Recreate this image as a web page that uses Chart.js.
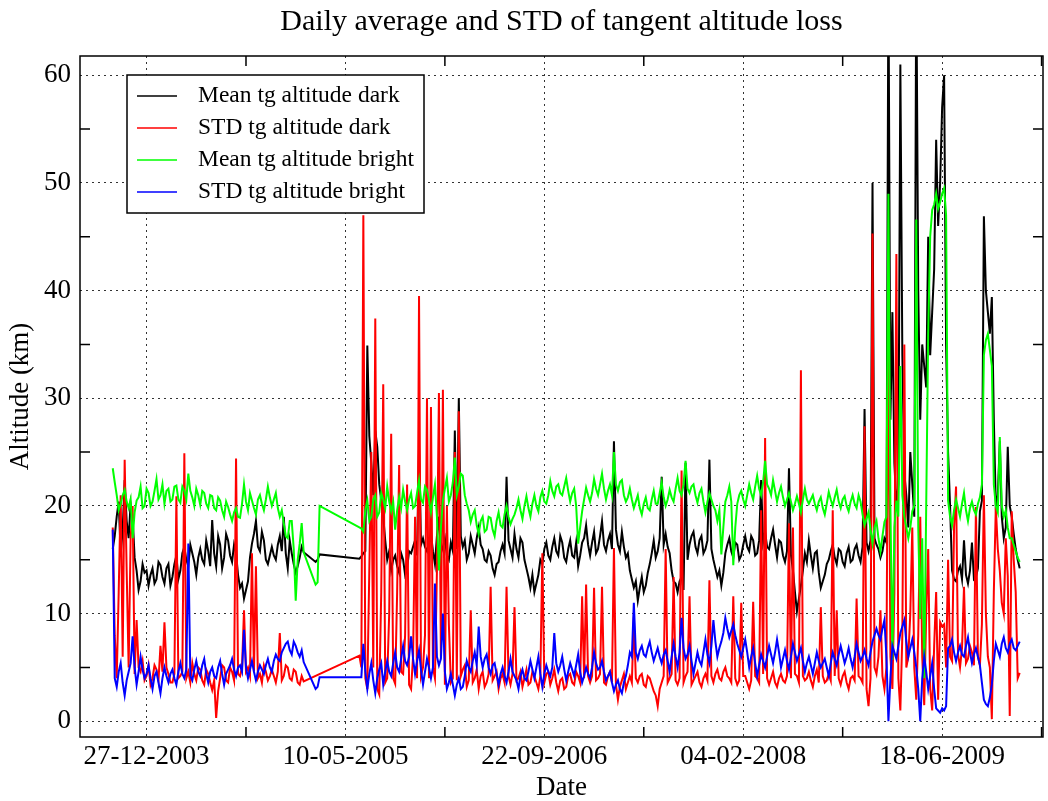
<!DOCTYPE html>
<html>
<head>
<meta charset="utf-8">
<title>Daily average and STD of tangent altitude loss</title>
<script src="https://cdn.jsdelivr.net/npm/chart.js@4.4.0/dist/chart.umd.min.js"></script>
<style>
  html, body { margin: 0; padding: 0; background: #fff; }
  #wrap { width: 1048px; height: 801px; }
</style>
</head>
<body>
<div id="wrap"><canvas id="altChart" width="1048" height="801"></canvas></div>
<script>
// time axis: days counted from 27-12-2003, one sample every 5 days
const firstDay = -85;
const stepDays = 5;
const tickDays = [0, 500, 1000, 1500, 2000];
const tickLabels = ['27-12-2003', '10-05-2005', '22-09-2006', '04-02-2008', '18-06-2009'];
const minorDays = [250, 750, 1250, 1750, 2250];
const altTicks = [0, 10, 20, 30, 40, 50, 60];
const minorAlt = [5, 15, 25, 35, 45, 55];

const seriesNames = ['Mean tg altitude dark', 'STD tg altitude dark', 'Mean tg altitude bright', 'STD tg altitude bright'];

// values (km), null = no data (the line spans the gap)
const meanDark = [
  16.0, 17.2, 19.0, 20.4, 15.5, 17.8, 22.4, 18.6, 17.0, 20.2, 19.0, 15.2, 14.0, 12.2, 13.0, 14.6, 13.8, 14.0, 12.6, 13.6,
  14.2, 12.8, 13.2, 14.8, 14.5, 13.4, 12.8, 14.2, 14.6, 12.6, 13.4, 14.6, 15.4, 13.2, 14.0, 15.6, 16.2, 15.0, 14.4, 16.4,
  15.6, 14.8, 13.6, 15.2, 16.0, 15.0, 14.6, 16.8, 15.8, 14.4, 18.7, 15.6, 14.4, 17.2, 16.4, 14.2, 15.2, 17.4, 16.8, 15.4,
  14.8, 16.4, 15.6, 13.6, 12.4, 12.8, 11.4, 12.2, 13.0, 15.2, 16.5, 17.4, 18.6, 16.2, 15.8, 17.6, 16.8, 15.0, 14.6, 15.4,
  16.2, 15.4, 15.0, 16.4, 17.2, 15.8, 19.0, 15.6, 14.2, 16.8, 15.6, 14.6, 13.8, 14.4, 15.2, 16.2, 15.7, null, null, null,
  null, null, 14.8, 15.0, 15.5, null, null, null, null, null, null, null, null, null, null, null, null, null, null, null,
  null, null, null, null, 15.1, 15.3, 15.6, 15.8, 34.9, 26.5, 24.0, 21.0, 27.0, 25.5, 22.0, 20.5, 19.0, 16.8, 15.0, 15.8,
  14.0, 15.0, 15.4, 14.4, 13.8, 15.6, 15.0, 13.6, 14.2, 15.8, 15.6, 16.2, 16.8, 15.4, 25.5, 16.4, 17.0, 16.2, 15.8, 16.6,
  17.4, 15.8, 14.6, 17.2, 19.0, 15.6, 16.2, 17.0, 15.4, 15.0, 16.6, 15.8, 27.0, 16.0, 30.0, 17.2, 16.2, 16.8, 15.0, 15.6,
  17.2, 16.4, 15.6, 17.0, 18.0, 16.4, 16.0, 15.0, 14.8, 15.8, 15.4, 14.2, 13.6, 14.6, 14.8, 15.8, 16.4, 15.6, 22.7, 16.8,
  16.0, 15.2, 17.4, 16.0, 15.2, 17.0, 16.6, 15.0, 14.2, 13.4, 12.4, 13.6, 12.0, 12.8, 13.6, 15.0, 14.6, 16.0, 16.6, 15.4,
  15.0, 16.2, 17.0, 15.8, 15.4, 17.2, 16.6, 15.2, 14.8, 16.0, 16.8, 15.4, 15.2, 16.6, 14.4, 15.4, 16.6, 17.0, 18.2, 16.4,
  15.4, 16.6, 17.6, 15.6, 16.0, 17.2, 18.6, 16.4, 15.8, 16.8, 17.4, 16.0, 26.0, 17.8, 16.4, 15.8, 17.6, 16.2, 15.2, 15.6,
  14.0, 13.2, 12.4, 13.0, 11.2, 12.4, 13.4, 12.0, 12.6, 13.8, 14.6, 15.6, 16.8, 15.2, 15.8, 17.0, 22.7, 16.4, 17.4, 16.2,
  15.6, 14.0, 13.0, 12.8, 12.0, 13.0, 13.4, 12.2, 24.0, 15.0, 16.4, 17.2, 17.6, 16.2, 15.6, 16.8, 17.2, 15.6, 16.0, 16.8,
  24.3, 16.0, 15.0, 14.2, 13.4, 14.0, 12.6, 13.8, 15.6, 16.4, 17.0, 15.8, 15.2, 16.6, 16.4, 15.0, 15.4, 16.4, 17.2, 16.2,
  15.8, 17.2, 16.8, 15.4, 15.6, 16.8, 22.4, 16.6, 17.6, 16.2, 16.0, 17.0, 17.8, 16.4, 15.2, 16.8, 16.6, 15.4, 14.8, 15.8,
  23.5, 15.4, 14.0, 12.0, 10.2, 11.4, 12.6, 14.0, 15.6, 14.8, 16.8, 15.4, 14.2, 15.6, 15.8, 13.8, 12.4, 13.0, 13.6, 14.6,
  15.0, 15.8, 16.4, 15.2, 14.6, 16.0, 15.8, 14.8, 14.4, 15.6, 16.2, 14.8, 15.0, 16.0, 16.4, 15.4, 14.8, 16.2, 29.0, 16.6,
  15.8, 16.8, 50.0, 17.0, 16.4, 16.0, 15.2, 15.8, 17.0, 16.6, 70.0, 28.0, 38.0, 24.0, 20.0, 22.0, 61.0, 34.0, 23.0, 21.0,
  18.0, 25.0, 22.0, 19.0, 70.0, 40.0, 28.0, 35.0, 33.0, 31.0, 45.0, 34.0, 38.0, 42.0, 54.0, 46.0, 50.0, 57.0, 60.0, 35.0,
  25.0, 20.0, 14.0, 13.2, 13.0, 14.0, 14.4, 13.2, 16.8, 13.6, 12.8, 14.0, 16.6, 13.2, 13.4, 14.2, 19.5, 20.5, 46.9, 40.0,
  38.0, 36.0, 39.4, 28.0, 20.0, 21.0, 26.0, 19.0, 17.0, 18.0, 25.5, 20.0, 19.0, 17.4, 16.0, 15.0, 14.2
];

const stdDark = [
  18.0, 8.0, 4.0, 12.0, 21.0, 6.0, 24.3, 14.0, 5.0, 17.0, 20.0, 4.4, 9.4, 5.0, 4.6, 5.6, 3.8, 4.2, 5.2, 3.4,
  4.0, 5.2, 4.8, 3.8, 7.0, 4.6, 9.2, 5.0, 4.4, 3.6, 3.6, 4.4, 20.9, 4.0, 4.2, 4.6, 24.9, 4.0, 4.6, 3.6,
  5.4, 4.4, 3.8, 5.0, 4.8, 3.8, 3.4, 4.8, 4.4, 3.6, 2.9, 3.8, 0.3, 2.8, 4.0, 5.2, 5.0, 3.8, 3.6, 5.0,
  4.6, 3.8, 24.4, 4.4, 4.2, 5.0, 10.3, 4.6, 5.0, 4.2, 15.6, 4.6, 14.4, 4.0, 4.4, 3.6, 5.2, 4.6, 3.8, 4.2,
  4.8, 4.2, 3.6, 4.6, 8.2, 3.8, 4.2, 5.2, 5.0, 4.0, 3.8, 4.8, 4.6, 3.6, 3.4, 4.2, 3.7, null, null, null,
  null, null, null, null, null, null, null, null, null, null, null, null, null, null, null, null, null, null, null, null,
  null, null, null, null, 6.1, 5.0, 47.0, 4.0, 3.0, 14.0, 25.0, 5.0, 37.4, 3.0, 2.5, 12.0, 31.3, 3.6, 4.0, 10.0,
  26.7, 4.0, 3.5, 12.0, 23.8, 4.6, 4.4, 8.0, 22.0, 3.4, 3.0, 6.0, 19.0, 4.0, 39.5, 4.2, 5.0, 8.0, 30.0, 4.0,
  29.2, 5.0, 4.0, 14.0, 30.5, 6.0, 30.8, 3.4, 20.0, 9.0, 3.6, 4.0, 25.0, 3.8, 28.8, 4.2, 4.8, 5.2, 3.2, 3.8,
  10.3, 3.6, 4.0, 4.8, 3.0, 4.2, 4.6, 3.2, 3.6, 4.4, 12.5, 3.8, 4.2, 4.6, 3.0, 4.0, 4.4, 3.6, 12.5, 4.2,
  3.4, 4.4, 10.6, 3.8, 4.0, 4.6, 3.2, 4.0, 4.8, 3.4, 3.6, 4.6, 4.2, 3.6, 3.0, 4.2, 15.6, 3.6, 4.4, 4.6,
  3.4, 4.0, 4.8, 3.6, 2.8, 3.8, 4.0, 3.0, 3.2, 4.2, 4.4, 3.6, 3.4, 4.6, 4.2, 3.6, 11.6, 4.0, 12.7, 4.2,
  3.6, 4.2, 12.4, 3.8, 4.0, 4.4, 12.5, 3.6, 3.4, 4.2, 4.6, 3.6, 16.1, 3.4, 2.0, 3.2, 3.8, 4.4, 3.0, 3.6,
  4.2, 3.6, 9.7, 4.0, 3.6, 4.2, 4.4, 3.4, 3.2, 4.2, 4.0, 3.4, 2.8, 2.4, 1.4, 3.0, 3.6, 4.2, 16.0, 3.6,
  4.0, 4.4, 13.4, 3.8, 3.4, 4.0, 23.3, 3.6, 4.2, 4.6, 11.6, 3.4, 3.8, 4.2, 4.6, 3.6, 3.2, 4.0, 4.4, 3.8,
  13.1, 4.2, 3.6, 4.4, 4.8, 4.0, 3.8, 4.6, 5.0, 4.2, 4.0, 3.6, 11.6, 4.0, 3.4, 3.8, 11.0, 4.2, 4.2, 3.6,
  3.0, 3.8, 11.1, 4.2, 4.0, 3.6, 19.6, 4.4, 26.3, 4.0, 3.4, 4.0, 4.6, 3.6, 3.2, 4.0, 4.4, 3.8, 3.6, 4.2,
  18.4, 4.0, 18.0, 4.4, 4.2, 3.6, 32.6, 4.2, 3.8, 4.0, 4.6, 3.8, 3.2, 4.2, 4.8, 3.6, 10.6, 4.2, 3.6, 3.8,
  4.4, 3.8, 19.6, 4.2, 10.3, 4.0, 3.4, 4.2, 4.6, 3.6, 3.0, 4.0, 4.2, 3.8, 11.4, 4.2, 4.0, 3.6, 27.4, 3.0,
  1.4, 4.0, 45.3, 5.0, 4.4, 6.0, 10.3, 4.2, 3.0, 5.0, 38.0, 6.0, 3.0, 12.0, 43.4, 4.0, 1.0, 8.0, 35.0, 5.0,
  6.0, 10.0, 18.0, 5.0, 2.0, 8.0, 19.0, 6.0, 1.5, 10.0, 16.0, 3.0, 1.0, 7.0, 12.0, 2.0, 9.2, 8.8, 9.0, 5.0,
  15.0, 6.0, 5.6, 18.0, 21.8, 6.2, 5.0, 6.8, 12.5, 5.4, 5.8, 7.0, 6.4, 5.2, 19.9, 6.0, 5.2, 9.0, 21.0, 10.0,
  6.0, 5.0, 0.2, 12.0, 19.9, 16.0, 14.0, 11.0, 10.0, 17.0, 13.5, 0.5, 19.5, 15.0, 12.0, 4.0, 4.5
];

const meanBright = [
  23.5, 22.2, 21.0, 19.6, 20.2, 21.0, 21.5, 20.4, 19.8, 20.6, 17.0, 19.4, 20.5, 20.8, 21.8, 19.8, 20.0, 21.6, 21.2, 20.0,
  20.4, 21.4, 22.5, 20.6, 21.0, 22.0, 20.2, 21.4, 21.6, 20.4, 20.6, 21.8, 21.9, 20.6, 20.3, 21.8, 21.4, 20.6, 23.0, 21.4,
  20.8, 20.0, 21.6, 21.0, 20.1, 21.4, 21.2, 20.2, 19.8, 21.0, 20.9, 19.8, 19.6, 20.8, 20.5, 19.6, 19.0, 20.4, 19.9, 19.2,
  18.6, 19.4, 19.8, 19.0, 18.9, 20.2, 22.0, 20.4, 19.6, 21.2, 20.5, 19.8, 19.2, 20.6, 21.0, 20.2, 19.6, 20.6, 21.8, 20.8,
  20.0, 20.6, 21.2, 19.8, 19.0, 19.6, 18.4, 17.2, 17.0, 18.6, 18.6, 16.0, 11.2, 15.0, 16.5, 18.4, 15.7, null, null, null,
  null, null, 12.7, 12.9, 20.0, null, null, null, null, null, null, null, null, null, null, null, null, null, null, null,
  null, null, null, null, 18.0, 17.9, 17.6, 19.6, 20.5, 18.6, 19.0, 20.6, 21.0, 19.0, 19.4, 21.2, 20.6, 19.8, 21.8, 20.4,
  19.5, 20.4, 17.8, 19.6, 20.8, 19.8, 21.5, 20.4, 19.6, 20.6, 21.2, 19.8, 20.0, 21.2, 22.4, 20.6, 20.3, 21.8, 21.5, 20.6,
  19.4, 20.8, 22.0, 19.0, 14.0, 18.0, 20.5, 21.6, 22.6, 20.4, 21.0, 22.2, 24.5, 21.0, 21.8, 23.0, 22.8, 21.0, 20.2, 19.6,
  18.5, 19.2, 19.6, 18.2, 17.4, 18.6, 19.0, 17.6, 17.8, 19.0, 18.9, 17.8, 17.2, 18.6, 19.4, 18.2, 18.0, 19.2, 20.0, 19.0,
  18.3, 18.8, 19.2, 19.8, 20.6, 19.6, 18.8, 20.0, 20.9, 19.8, 19.0, 20.2, 21.0, 20.0, 19.5, 20.8, 21.4, 20.4, 20.2, 21.0,
  22.3, 21.4, 20.9, 21.8, 22.0, 21.2, 21.0, 21.8, 22.6, 21.4, 20.4, 21.2, 21.6, 20.0, 16.5, 18.0, 19.5, 20.6, 21.7, 21.0,
  20.4, 21.2, 22.5, 21.6, 21.0, 22.0, 23.0, 21.6, 20.6, 21.4, 22.0, 21.0, 25.0, 22.0, 21.4, 22.2, 22.4, 21.0, 20.4, 20.8,
  21.6, 20.6, 19.8, 20.4, 21.0, 19.8, 19.2, 20.2, 20.8, 19.8, 19.6, 20.6, 21.4, 20.2, 20.2, 21.2, 22.2, 20.8, 20.0, 20.6,
  21.5, 20.8, 20.4, 21.6, 22.6, 21.4, 21.0, 22.0, 24.2, 21.6, 21.2, 21.8, 22.0, 21.0, 20.3, 21.2, 21.6, 20.4, 19.4, 20.4,
  21.2, 20.6, 20.0, 19.6, 18.6, 19.6, 15.5, 18.0, 20.4, 21.0, 21.8, 20.4, 14.5, 18.0, 20.2, 21.0, 21.4, 20.6, 20.0, 21.0,
  22.0, 21.2, 20.6, 21.8, 22.8, 21.6, 21.0, 22.2, 24.2, 22.0, 21.6, 21.0, 22.4, 21.4, 20.4, 21.2, 21.8, 20.8, 20.0, 20.6,
  21.2, 20.4, 19.6, 20.2, 20.9, 20.2, 19.4, 20.6, 21.6, 20.6, 20.2, 20.6, 21.0, 20.2, 19.6, 20.4, 20.8, 19.8, 19.2, 20.2,
  21.3, 20.6, 20.0, 20.8, 21.5, 20.4, 19.8, 20.6, 20.9, 20.0, 19.5, 20.4, 21.0, 20.2, 19.8, 21.0, 20.4, 19.2, 18.2, 18.8,
  19.4, 17.8, 16.5, 18.0, 18.6, 17.0, 15.8, 17.2, 18.5, 19.0, 49.0, 20.0, 5.7, 18.0, 20.5, 19.0, 33.0, 21.0, 19.0, 18.0,
  17.0, 18.0, 19.5, 20.0, 46.6, 18.0, 9.5, 17.0, 4.0, 20.0, 36.0, 45.0, 47.5, 48.0, 49.0, 47.6, 48.2, 49.0, 49.5, 47.0,
  20.5, 19.0, 18.2, 19.6, 20.6, 19.8, 19.0, 20.2, 21.2, 19.6, 18.6, 19.8, 20.4, 19.6, 19.2, 20.2, 20.8, 22.0, 34.0, 35.4,
  36.0, 34.5, 33.0, 22.0, 20.0, 19.4, 26.4, 20.0, 19.0, 19.6, 18.0, 17.0, 17.0, 16.4, 15.8, 15.2, 14.8
];

const stdBright = [
  17.8, 4.0, 3.2, 4.6, 5.4, 3.6, 2.4, 3.8, 4.6, 5.4, 7.9, 5.0, 3.4, 4.6, 6.0, 4.8, 4.0, 4.4, 5.2, 4.0,
  3.0, 4.2, 4.6, 3.6, 2.6, 4.0, 5.0, 4.2, 3.6, 4.4, 4.8, 4.0, 3.4, 4.6, 5.4, 4.4, 4.0, 4.8, 16.5, 4.2,
  3.8, 4.8, 5.6, 4.6, 4.2, 5.2, 5.8, 4.4, 3.6, 4.6, 5.0, 4.2, 4.0, 5.0, 5.6, 4.4, 3.4, 4.4, 4.8, 5.2,
  5.8, 4.8, 4.2, 5.0, 5.2, 4.6, 8.5, 5.0, 4.0, 4.8, 5.6, 4.6, 3.8, 4.6, 5.2, 4.8, 4.4, 5.2, 5.8, 5.0,
  4.6, 5.6, 6.2, 5.8, 5.6, 6.4, 6.8, 7.2, 7.4, 6.6, 6.2, 7.4, 7.0, 6.4, 6.0, 6.6, 5.5, null, null, null,
  null, null, 3.0, 3.2, 4.1, null, null, null, null, null, null, null, null, null, null, null, null, null, null, null,
  null, null, null, null, 4.1, 4.1, 7.2, 4.6, 3.0, 4.4, 5.4, 3.8, 2.6, 4.0, 4.8, 5.4, 3.4, 4.6, 5.6, 4.6,
  4.2, 5.4, 6.4, 5.0, 4.6, 5.8, 7.0, 5.6, 5.2, 6.0, 7.9, 5.8, 4.4, 5.6, 6.6, 4.8, 3.4, 4.6, 5.8, 5.0,
  4.0, 5.0, 12.8, 6.0, 5.2, 5.8, 10.0, 4.6, 3.0, 3.6, 4.4, 3.4, 2.4, 3.4, 4.0, 3.0, 3.2, 4.2, 5.6, 5.0,
  4.6, 5.6, 6.4, 5.2, 8.8, 6.0, 5.0, 5.8, 6.2, 5.0, 4.4, 5.2, 5.4, 4.4, 3.4, 4.4, 5.0, 4.2, 3.6, 4.6,
  5.8, 4.6, 4.2, 3.8, 3.0, 4.2, 4.8, 4.0, 3.8, 4.6, 5.6, 4.8, 4.0, 5.0, 6.0, 4.4, 3.2, 4.4, 5.2, 4.6,
  4.2, 5.0, 8.2, 5.4, 4.6, 5.2, 6.0, 4.8, 3.8, 4.6, 5.4, 4.8, 4.2, 5.2, 6.2, 4.6, 3.6, 4.2, 5.0, 4.4,
  4.0, 5.0, 6.4, 5.4, 4.8, 5.0, 5.6, 4.6, 3.8, 4.2, 4.6, 3.6, 2.8, 3.4, 3.8, 3.0, 2.6, 3.6, 4.2, 5.2,
  6.4, 6.0, 11.0, 6.4, 5.8, 6.6, 7.0, 6.2, 6.0, 6.8, 7.4, 6.4, 5.6, 6.2, 6.8, 6.0, 5.4, 6.2, 6.6, 5.6,
  4.6, 6.0, 7.2, 6.0, 5.0, 6.4, 9.6, 6.8, 5.8, 6.2, 7.0, 5.6, 4.4, 5.4, 6.4, 5.6, 5.2, 6.4, 7.6, 6.2,
  5.4, 7.0, 9.4, 7.4, 6.0, 6.8, 7.4, 8.2, 9.6, 8.6, 7.8, 8.4, 9.0, 8.0, 7.2, 6.6, 6.0, 6.8, 7.6, 6.4,
  5.0, 6.0, 6.8, 5.4, 4.2, 5.2, 6.2, 5.6, 5.0, 6.0, 7.0, 6.2, 5.4, 6.4, 7.6, 6.4, 5.0, 5.8, 6.6, 5.6,
  4.8, 6.0, 7.2, 6.4, 5.6, 6.2, 6.8, 5.6, 4.6, 5.4, 6.0, 5.2, 4.4, 5.4, 6.4, 5.6, 5.0, 5.4, 5.8, 5.0,
  4.2, 5.4, 6.4, 5.8, 5.2, 6.2, 7.0, 6.2, 5.4, 6.0, 6.8, 5.8, 5.0, 6.0, 7.2, 6.4, 5.6, 6.0, 6.6, 5.8,
  5.2, 6.4, 7.4, 8.0, 8.6, 8.0, 7.6, 8.6, 9.4, 6.0, 0.0, 4.0, 7.0, 6.4, 5.8, 7.0, 8.2, 8.8, 9.4, 7.4,
  6.0, 6.8, 7.6, 6.4, 5.0, 3.0, 0.0, 4.0, 6.0, 4.6, 3.0, 4.2, 5.4, 3.0, 1.2, 1.0, 0.8, 1.2, 1.0, 1.4,
  6.8, 7.0, 7.6, 6.4, 5.6, 6.4, 7.0, 6.2, 6.0, 7.0, 7.8, 6.4, 5.4, 6.2, 6.8, 6.0, 5.2, 3.6, 2.0, 1.6,
  1.4, 2.2, 3.4, 5.6, 7.2, 6.6, 6.0, 7.2, 7.8, 6.8, 6.4, 7.2, 7.6, 6.8, 6.6, 7.0, 7.4
];

const allSeries = [meanDark, stdDark, meanBright, stdBright];
allSeries.forEach((s, k) => {
  if (s.length !== meanDark.length) throw new Error('length mismatch in series ' + k + ': ' + s.length + ' vs ' + meanDark.length);
});

const days = meanDark.map((_, i) => firstDay + i * stepDays);
const toPoints = values => values.map((v, i) => ({ x: days[i], y: v }));

const serif = 'Liberation Serif, Times New Roman, serif';
const colors = ['#000000', '#ff0000', '#00ff00', '#0000ff'];

// frame, inward minor ticks and the boxed legend in the upper left
const frameAndLegend = {
  id: 'frameAndLegend',
  afterDatasetsDraw(chart) {
    const { ctx, chartArea: a, scales: { x, y } } = chart;
    ctx.save();
    ctx.strokeStyle = '#000';
    ctx.lineWidth = 1.5;
    ctx.strokeRect(a.left, a.top, a.right - a.left, a.bottom - a.top);
    ctx.beginPath();
    minorDays.forEach(d => {
      const px = x.getPixelForValue(d);
      ctx.moveTo(px, a.bottom); ctx.lineTo(px, a.bottom - 10);
      ctx.moveTo(px, a.top); ctx.lineTo(px, a.top + 10);
    });
    minorAlt.forEach(v => {
      const py = y.getPixelForValue(v);
      ctx.moveTo(a.left, py); ctx.lineTo(a.left + 10, py);
      ctx.moveTo(a.right, py); ctx.lineTo(a.right - 10, py);
    });
    ctx.stroke();

    const box = { left: 127, top: 75, width: 297, height: 138 };
    ctx.fillStyle = '#fff';
    ctx.fillRect(box.left, box.top, box.width, box.height);
    ctx.lineWidth = 1.5;
    ctx.strokeRect(box.left, box.top, box.width, box.height);
    ctx.font = '23.5px ' + serif;
    ctx.textBaseline = 'middle';
    ctx.textAlign = 'left';
    chart.data.datasets.forEach((ds, i) => {
      const rowY = box.top + 21 + i * 32;
      ctx.strokeStyle = ds.borderColor;
      ctx.lineWidth = 1.6;
      ctx.beginPath();
      ctx.moveTo(box.left + 10, rowY);
      ctx.lineTo(box.left + 50, rowY);
      ctx.stroke();
      ctx.fillStyle = '#000';
      ctx.fillText(ds.label, box.left + 71, rowY);
    });
    ctx.restore();
  }
};

const ctx = document.getElementById('altChart').getContext('2d');
const altChart = new Chart(ctx, {
  type: 'line',
  data: {
    datasets: allSeries.map((s, k) => ({
      label: seriesNames[k],
      data: toPoints(s),
      borderColor: colors[k],
      backgroundColor: colors[k],
      borderWidth: 2,
      pointRadius: 0,
      tension: 0,
      spanGaps: true,
      order: 4 - k
    }))
  },
  options: {
    responsive: false,
    animation: false,
    devicePixelRatio: 1,
    layout: { padding: { left: 0, right: 5, top: 0, bottom: 0 } },
    plugins: {
      legend: { display: false },
      tooltip: { enabled: false },
      title: {
        display: true,
        fullSize: false,
        text: 'Daily average and STD of tangent altitude loss',
        color: '#000',
        font: { family: serif, size: 30, weight: 'normal' },
        padding: { top: 4, bottom: 16 }
      }
    },
    scales: {
      x: {
        type: 'linear',
        min: -167.3,
        max: 2253.6,
        afterBuildTicks: scale => { scale.ticks = tickDays.map(v => ({ value: v })); },
        afterFit: scale => { scale.height = 64; },
        ticks: {
          callback: (value, index) => tickLabels[index],
          color: '#000',
          font: { family: serif, size: 27 },
          padding: 4,
          maxRotation: 0,
          autoSkip: false
        },
        grid: { color: '#333', lineWidth: 1, drawTicks: false },
        border: { display: false, dash: [2, 4] },
        title: {
          display: true,
          text: 'Date',
          color: '#000',
          font: { family: serif, size: 27, lineHeight: 1.0 },
          padding: { top: 0, bottom: 0 }
        }
      },
      y: {
        type: 'linear',
        min: -1.46,
        max: 61.79,
        afterBuildTicks: scale => { scale.ticks = altTicks.map(v => ({ value: v })); },
        afterFit: scale => { scale.width = 80; },
        ticks: {
          callback: value => value,
          color: '#000',
          font: { family: serif, size: 27 },
          padding: 9
        },
        grid: { color: '#333', lineWidth: 1, drawTicks: false },
        border: { display: false, dash: [2, 4] },
        title: {
          display: true,
          text: 'Altitude (km)',
          color: '#000',
          font: { family: serif, size: 27 },
          padding: { top: 5, bottom: 0 }
        }
      }
    }
  },
  plugins: [frameAndLegend]
});
</script>
</body>
</html>
